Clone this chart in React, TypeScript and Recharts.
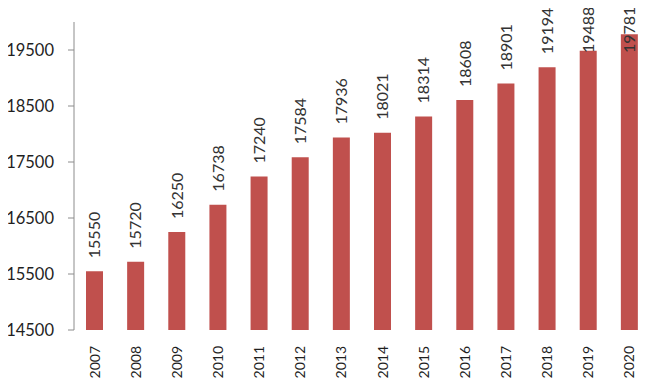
import React from "react";
import { BarChart, Bar, XAxis, YAxis, LabelList } from "recharts";

const years = ["2007", "2008", "2009", "2010", "2011", "2012", "2013", "2014", "2015", "2016", "2017", "2018", "2019", "2020"];
const values = [15550, 15720, 16250, 16738, 17240, 17584, 17936, 18021, 18314, 18608, 18901, 19194, 19488, 19781];
const yTicks = [14500, 15500, 16500, 17500, 18500, 19500];
const edgeTicks = [0, 1, 2, 3, 4, 5, 6, 7, 8, 9, 10, 11, 12, 13, 14];

const data = years.map((year, i) => ({ year, value: values[i] }));

const FONT = "Lato, 'Open Sans', sans-serif";
const AXIS = "#8c8c8c";
const BAR = "#c0504d";

function YearTick(props: any) {
  const { x, y, payload } = props;
  return (
    <g transform={`translate(${x},${y + 8}) rotate(-90)`}>
      <text textAnchor="end" dy="0.36em" fontSize={14} fontFamily={FONT} fill="#1f1f1f">
        {payload.value}
      </text>
    </g>
  );
}

function ValueLabel(props: any) {
  const { x, y, width, value } = props;
  const cx = x + width / 2;
  // keep the rotated label inside the top of the chart
  const bottom = Math.max(y - 13, 53);
  return (
    <g transform={`translate(${cx},${bottom}) rotate(-90)`}>
      <text textAnchor="start" dy="0.36em" fontSize={16} fontFamily={FONT} fill="#333">
        {value}
      </text>
    </g>
  );
}

export default function App() {
  return (
    <div style={{ margin: "-8px 0 0 -8px", width: 664, height: 391, background: "#fff" }}>
      <BarChart width={664} height={391} data={data} margin={{ top: 22, right: 14, left: 14, bottom: 6 }} barCategoryGap={0}>
        <XAxis
          xAxisId="edges"
          type="number"
          domain={[0, 14]}
          ticks={edgeTicks}
          tick={false}
          tickSize={6}
          tickLine={{ stroke: AXIS }}
          axisLine={{ stroke: AXIS }}
          height={0}
          allowDataOverflow
        />
        <XAxis
          dataKey="year"
          interval={0}
          tick={<YearTick />}
          tickLine={false}
          axisLine={false}
          height={55}
        />
        <YAxis
          domain={[14500, 20000]}
          ticks={yTicks}
          interval={0}
          width={60}
          tickSize={6}
          tickMargin={14}
          tick={{ fontSize: 16.5, fontFamily: FONT, fill: "#1f1f1f" }}
          tickLine={{ stroke: AXIS }}
          axisLine={{ stroke: AXIS }}
          allowDataOverflow
        />
        <Bar dataKey="value" fill={BAR} barSize={17} isAnimationActive={false}>
          <LabelList dataKey="value" content={<ValueLabel />} />
        </Bar>
      </BarChart>
    </div>
  );
}
